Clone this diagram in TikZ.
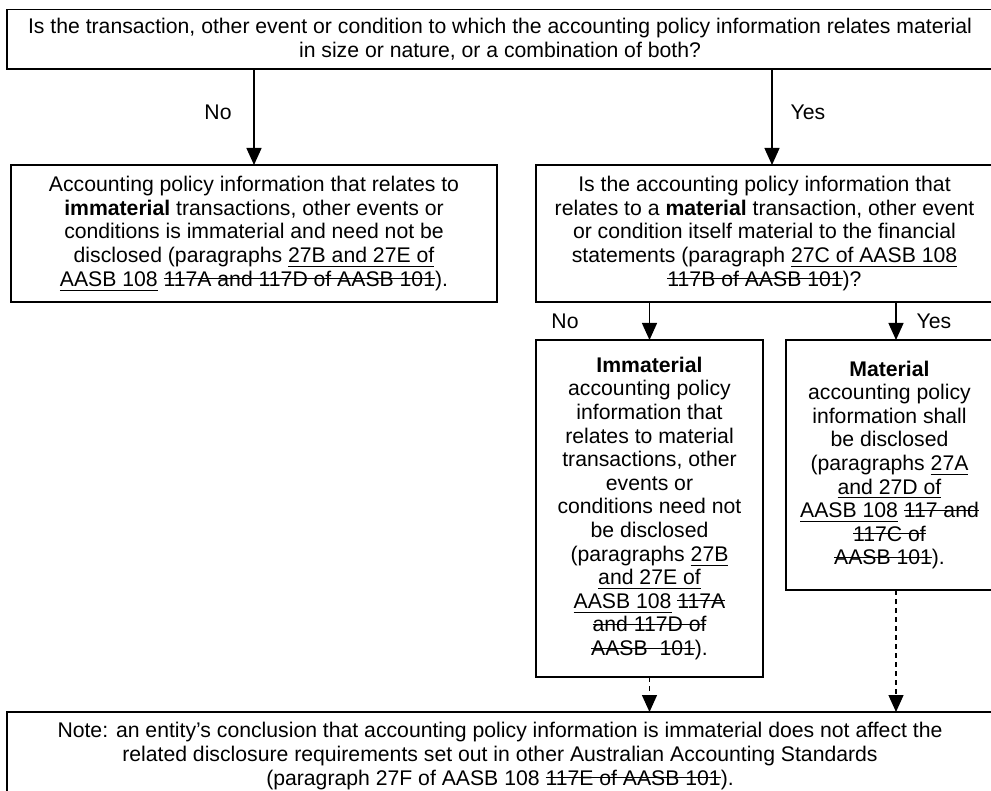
\documentclass[tikz,border=0pt]{standalone}
\usepackage{fontspec}
\setmainfont{Liberation Sans}
\usepackage{tikz}
\usetikzlibrary{arrows.meta}
\usetikzlibrary{calc}
\newcommand{\undl}[1]{{\setbox0\hbox{#1}\rlap{\rule[-0.2em]{\wd0}{0.45pt}}\box0}}
\newcommand{\strk}[1]{{\setbox0\hbox{#1}\rlap{\rule[0.33em]{\wd0}{0.45pt}}\box0}}
\begin{document}
\begin{tikzpicture}[x=0.5pt, y=-0.5pt,
  box/.style={draw, line width=0.7pt, align=center, outer sep=0pt, inner sep=2pt, font=\fontsize{10.6}{11.8}\selectfont},
  lbl/.style={font=\fontsize{10.6}{11.8}\selectfont},
  arr/.style={line width=0.7pt, -{Triangle[width=7.5pt,length=8.5pt]}},
  darr/.style={arr, dash pattern=on 2.5pt off 2pt}]
\useasboundingbox (0,0) rectangle (991,791);
\node[box, minimum width=493pt, minimum height=29.75pt] (top) at (500,39.25) {Is the transaction, other event or condition to which the accounting policy information relates material\\in size or nature, or a combination of both?};
\node[box, minimum width=243pt, minimum height=68.5pt] (lbox) at (254,233.5) {Accounting policy information that relates to\\\textbf{immaterial} transactions, other events or\\conditions is immaterial and need not be\\disclosed (paragraphs \undl{27B and 27E of}\\\undl{AASB 108} \strk{117A and 117D of AASB 101}).};
\node[box, minimum width=228.5pt, minimum height=68.5pt] (rq) at (764.5,233.5) {Is the accounting policy information that\\relates to a \textbf{material} transaction, other event\\or condition itself material to the financial\\statements (paragraph \undl{27C of AASB 108}\\\strk{117B of AASB 101})?};
\node[box, minimum width=113.5pt, minimum height=168.5pt] (mbox) at (649.5,508.5) {\textbf{Immaterial}\\accounting policy\\information that\\relates to material\\transactions, other\\events or\\conditions need not\\be disclosed\\(paragraphs \undl{27B}\\\undl{and 27E of}\\\undl{AASB 108} \strk{117A}\\\strk{and 117D of}\\\strk{AASB\ \ 101}).};
\node[box, minimum width=103.5pt, minimum height=125pt] (rbox) at (889.5,465) {\textbf{Material}\\accounting policy\\information shall\\be disclosed\\(paragraphs \undl{27A}\\\undl{and 27D of}\\\undl{AASB 108} \strk{117 and}\\\strk{117C of}\\\strk{AASB 101}).};
\node[box, minimum width=493pt, minimum height=44pt] (note) at (500,756) {Note: an entity’s conclusion that accounting policy information is immaterial does not affect the\\related disclosure requirements set out in other Australian Accounting Standards\\(paragraph 27F of AASB 108 \strk{117E of AASB 101}).};

\coordinate (yesin) at ($(rq.north) + (7.5,0)$);
\coordinate (rbin) at ($(rbox.north) + (6.5,0)$);
\coordinate (rbout) at ($(rbox.south) + (6.5,0)$);

\draw[arr] (lbox.north |- top.south) -- (lbox.north);
\draw[arr] (yesin |- top.south) -- (yesin);
\draw[arr] (mbox.north |- rq.south) -- (mbox.north);
\draw[arr] (rbin |- rq.south) -- (rbin);
\draw[darr] (mbox.south) -- (mbox.south |- note.north);
\draw[darr] (rbout) -- (rbout |- note.north);

\node[lbl] (no1) at (218,112) {No};
\node[lbl] (yes1) at (808,112) {Yes};
\node[lbl] (no2) at (565,321) {No};
\node[lbl] (yes2) at (934,321) {Yes};
\end{tikzpicture}
\end{document}
